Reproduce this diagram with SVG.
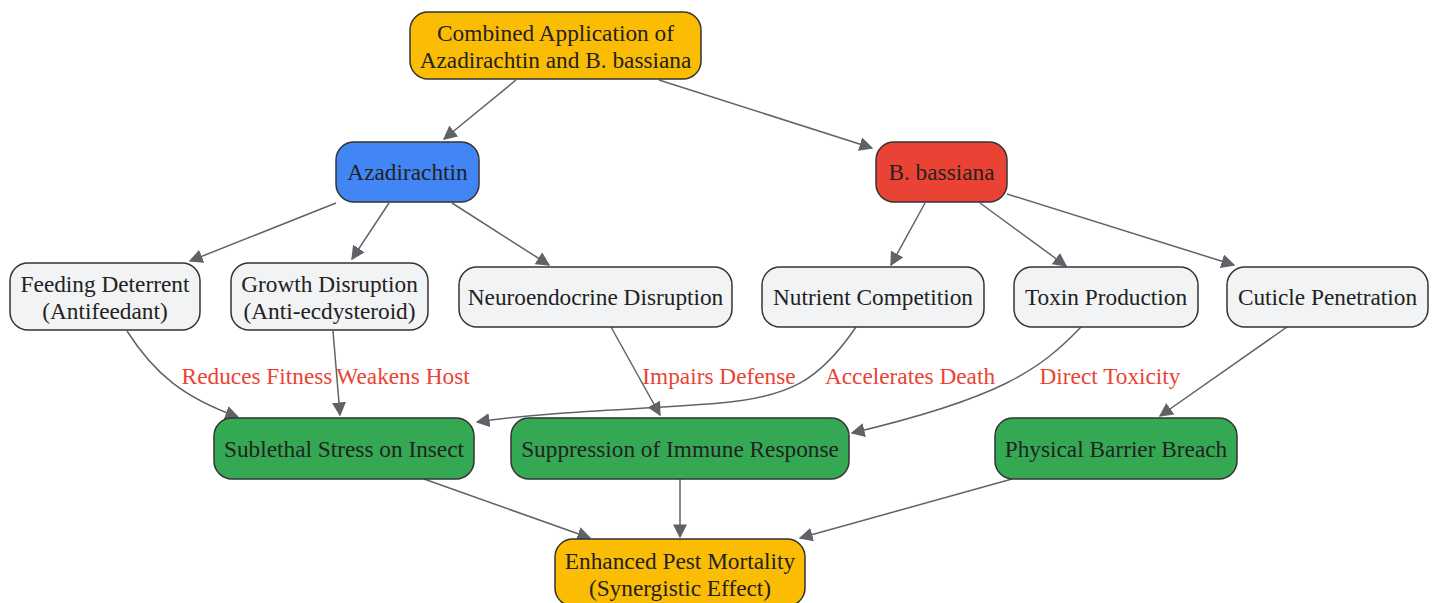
<svg xmlns="http://www.w3.org/2000/svg" width="1437" height="603" viewBox="0 0 1437 603">
<style>
.n{stroke:#333;stroke-width:1.5}
.t{font-family:"Liberation Serif","Times New Roman",serif;font-size:23.3px;fill:#222;text-anchor:middle;dominant-baseline:central}
.l{font-family:"Liberation Serif","Times New Roman",serif;font-size:23.3px;fill:#EA4335;text-anchor:middle;dominant-baseline:central}
.e{fill:none;stroke:#5f6368;stroke-width:1.5;marker-end:url(#a)}
.y{fill:#FBBC04}.b{fill:#4285F4}.r{fill:#EA4335}.g{fill:#F1F3F4}.gr{fill:#34A853}
</style>
<defs>
<marker id="a" viewBox="0 0 10 10" refX="9" refY="5" markerWidth="14" markerHeight="14" markerUnits="userSpaceOnUse" orient="auto">
<path d="M0,0 L10,5 L0,10 z" fill="#5f6368"/>
</marker>
</defs>
<rect width="1437" height="603" fill="#fff"/>
<g id="connectors">
<path class="e" d="M516,80 L444,139"/>
<path class="e" d="M659,80 L872,148"/>
<path class="e" d="M336,203 L190,261"/>
<path class="e" d="M389,203 L352,259"/>
<path class="e" d="M452,203 L549,265"/>
<path class="e" d="M925,203 L891,265"/>
<path class="e" d="M980,203 L1066,266"/>
<path class="e" d="M1007,194 L1234,265"/>
<path class="e" d="M127,331 C155,375 185,398 238,417"/>
<path class="e" d="M333,331 L340,415"/>
<path class="e" d="M611,327 L660,415"/>
<path class="e" d="M856,327 C820,380 790,397 720,403 C640,410 560,410 477,422"/>
<path class="e" d="M1081,327 C1040,370 1000,398 852,433"/>
<path class="e" d="M1287,327 L1160,416"/>
<path class="e" d="M424,479 L590,538"/>
<path class="e" d="M680,479 L680,537"/>
<path class="e" d="M1012,479 L800,538"/>
<text class="l" x="257" y="376">Reduces Fitness</text>
<text class="l" x="403" y="376">Weakens Host</text>
<text class="l" x="719" y="376">Impairs Defense</text>
<text class="l" x="910" y="376">Accelerates Death</text>
<text class="l" x="1110" y="376">Direct Toxicity</text>
</g>
<g id="combined"><rect class="n y" x="410" y="12" width="291" height="67" rx="18"/><text class="t" x="555.5" y="33">Combined Application of</text><text class="t" x="555.5" y="60">Azadirachtin and B. bassiana</text></g>
<g id="azadirachtin"><rect class="n b" x="336" y="142" width="143" height="60" rx="18"/><text class="t" x="407.5" y="172">Azadirachtin</text></g>
<g id="bbassiana"><rect class="n r" x="876" y="142" width="131" height="60" rx="18"/><text class="t" x="941.5" y="172">B. bassiana</text></g>
<g id="feeding"><rect class="n g" x="10" y="263" width="190" height="67" rx="18"/><text class="t" x="105" y="284">Feeding Deterrent</text><text class="t" x="105" y="311">(Antifeedant)</text></g>
<g id="growth"><rect class="n g" x="231" y="263" width="197" height="67" rx="18"/><text class="t" x="329.5" y="284">Growth Disruption</text><text class="t" x="329.5" y="311">(Anti-ecdysteroid)</text></g>
<g id="neuro"><rect class="n g" x="459" y="267" width="273" height="60" rx="18"/><text class="t" x="595.5" y="297">Neuroendocrine Disruption</text></g>
<g id="nutrient"><rect class="n g" x="762" y="267" width="222" height="60" rx="18"/><text class="t" x="873" y="297">Nutrient Competition</text></g>
<g id="toxin"><rect class="n g" x="1014" y="267" width="184" height="60" rx="18"/><text class="t" x="1106" y="297">Toxin Production</text></g>
<g id="cuticle"><rect class="n g" x="1227" y="267" width="201" height="60" rx="18"/><text class="t" x="1327.5" y="297">Cuticle Penetration</text></g>
<g id="sublethal"><rect class="n gr" x="214" y="418" width="260" height="61" rx="18"/><text class="t" x="344" y="449">Sublethal Stress on Insect</text></g>
<g id="suppression"><rect class="n gr" x="511" y="418" width="338" height="61" rx="18"/><text class="t" x="680" y="449">Suppression of Immune Response</text></g>
<g id="physical"><rect class="n gr" x="995" y="418" width="242" height="61" rx="18"/><text class="t" x="1116" y="449">Physical Barrier Breach</text></g>
<g id="enhanced"><rect class="n y" x="555" y="539" width="250" height="67" rx="18"/><text class="t" x="680" y="561">Enhanced Pest Mortality</text><text class="t" x="680" y="588">(Synergistic Effect)</text></g>
</svg>
